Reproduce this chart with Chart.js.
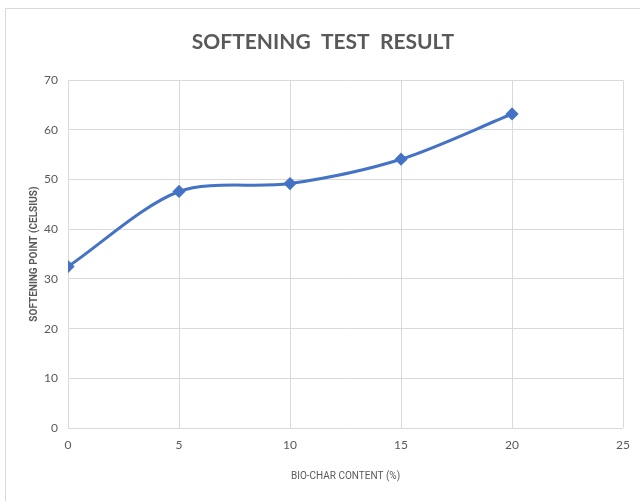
<!DOCTYPE html>
<html>
<head>
<meta charset="utf-8">
<script src="https://cdn.jsdelivr.net/npm/chart.js@4/dist/chart.umd.min.js"></script>
<style>
    html, body { margin: 0; padding: 0; background: #fff; overflow: hidden; }
    #wrap { position: relative; width: 640px; height: 501px; }
    #frame { position: absolute; left: 5px; top: 8px; width: 660px; height: 520px; border: 1px solid #d9d9d9; box-sizing: border-box; }
    #chart_canvas { position: absolute; left: 0; top: 0; }
</style>
</head>
<body>
<div id="wrap">
    <div id="frame"></div>
    <canvas id="chart_canvas" width="640" height="501"></canvas>
</div>
<script>
// values
const bioCharContent = [0, 5, 10, 15, 20];
const softeningPoint = [32.5, 47.6, 49.2, 54.1, 63.2];
const xTicks = [0, 5, 10, 15, 20, 25];
const yTicks = [0, 10, 20, 30, 40, 50, 60, 70];

const textGrey = '#595959';
const gridGrey = '#d9d9d9';
const lineBlue = '#4472c4';

document.addEventListener('DOMContentLoaded', drawSofteningChart);

function drawSofteningChart() {
    let points = bioCharContent.map(function (x, i) {
        return { x: x, y: softeningPoint[i] };
    });

    let ctx = document.getElementById('chart_canvas').getContext('2d');

    new Chart(ctx, {
        type: 'scatter',
        data: {
            datasets: [
                {
                    label: 'Softening point',
                    data: points,
                    showLine: true,
                    fill: false,
                    borderColor: lineBlue,
                    backgroundColor: lineBlue,
                    borderWidth: 3,
                    tension: 0.3,
                    pointStyle: 'rectRot',
                    pointRadius: 4.5,
                    pointHoverRadius: 4.5,
                },
            ],
        },
        options: {
            responsive: false,
            animation: false,
            layout: {
                padding: { left: 22, right: 16, top: 0, bottom: 13 },
            },
            plugins: {
                legend: { display: false },
                tooltip: { enabled: false },
                title: {
                    display: true,
                    text: 'SOFTENING  TEST  RESULT',
                    color: textGrey,
                    font: { family: 'Lato', size: 21, weight: 'bold' },
                    padding: { top: 30, bottom: 25 },
                },
            },
            scales: {
                x: {
                    type: 'linear',
                    min: xTicks[0],
                    max: xTicks[xTicks.length - 1],
                    afterBuildTicks: function (scale) {
                        scale.ticks = xTicks.map(function (v) { return { value: v }; });
                    },
                    grid: { color: gridGrey, drawTicks: false },
                    border: { display: false },
                    ticks: {
                        color: textGrey,
                        padding: 10,
                        font: { family: 'Lato', size: 12 },
                    },
                    title: {
                        display: true,
                        text: 'BIO-CHAR CONTENT (%)',
                        color: textGrey,
                        font: { family: 'Roboto', size: 10 },
                        padding: { top: 4, bottom: 6 },
                    },
                    afterFit: function (scale) {
                        scale.height = 60;
                    },
                },
                y: {
                    type: 'linear',
                    min: yTicks[0],
                    max: yTicks[yTicks.length - 1],
                    afterBuildTicks: function (scale) {
                        scale.ticks = yTicks.map(function (v) { return { value: v }; });
                    },
                    grid: { color: gridGrey, drawTicks: false },
                    border: { display: false },
                    ticks: {
                        color: textGrey,
                        padding: 10,
                        font: { family: 'Lato', size: 12 },
                    },
                    title: {
                        display: true,
                        text: 'SOFTENING POINT (CELSIUS)',
                        color: textGrey,
                        font: { family: 'Roboto', size: 10, weight: 'bold' },
                        padding: { top: 6, bottom: 0 },
                    },
                    afterFit: function (scale) {
                        scale.width = 46;
                    },
                },
            },
        },
    });
}
</script>
</body>
</html>
